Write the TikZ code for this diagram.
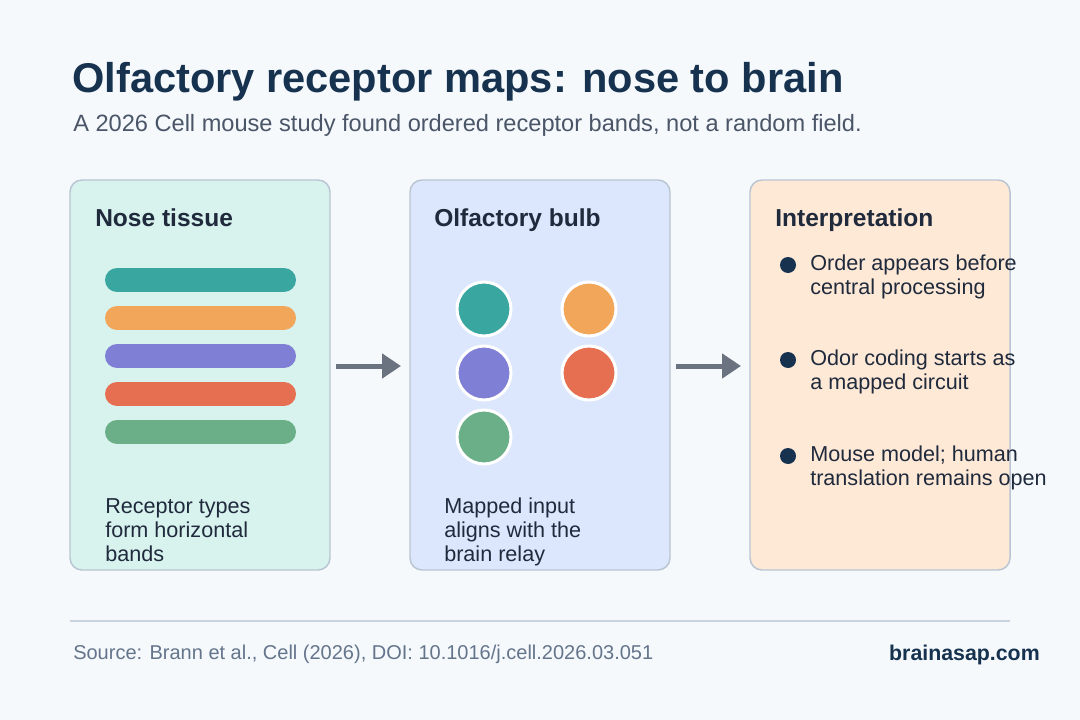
\documentclass[tikz,border=0pt]{standalone}
\usepackage{fontspec}
\setmainfont{Liberation Sans}
\usetikzlibrary{arrows.meta,positioning}
\definecolor{pageBg}{RGB}{245,249,252}
\definecolor{panelLine}{RGB}{185,197,211}
\definecolor{noseFill}{RGB}{216,242,238}
\definecolor{bulbFill}{RGB}{220,231,253}
\definecolor{interpFill}{RGB}{254,232,214}
\definecolor{titleInk}{RGB}{22,50,79}
\definecolor{subInk}{RGB}{74,85,104}
\definecolor{bodyInk}{RGB}{31,42,60}
\definecolor{footInk}{RGB}{100,116,139}
\definecolor{ruleLine}{RGB}{200,212,224}
\definecolor{arrowInk}{RGB}{107,114,128}
\definecolor{bandTeal}{RGB}{58,166,160}
\definecolor{bandOrange}{RGB}{242,166,90}
\definecolor{bandPurple}{RGB}{127,127,213}
\definecolor{bandRed}{RGB}{231,111,81}
\definecolor{bandGreen}{RGB}{106,175,135}
\tikzset{
  panel/.style={draw=panelLine, line width=1.1pt, rounded corners=9pt, minimum width=195pt, minimum height=292.5pt, inner sep=0pt, outer sep=0pt},
  nosepanel/.style={panel, fill=noseFill},
  bulbpanel/.style={panel, fill=bulbFill},
  interppanel/.style={panel, fill=interpFill},
  titletext/.style={anchor=base west, inner sep=0pt, text=titleInk, font=\fontsize{31.2pt}{36pt}\selectfont\bfseries},
  subtext/.style={anchor=base west, inner sep=0pt, text=subInk, font=\fontsize{17.7pt}{20pt}\selectfont},
  headtext/.style={anchor=base west, inner sep=0pt, text=bodyInk, font=\fontsize{18.4pt}{21pt}\selectfont\bfseries},
  bodytext/.style={anchor=base west, inner sep=0pt, align=left, text=bodyInk, font=\fontsize{16.2pt}{18pt}\selectfont},
  foottext/.style={anchor=base west, inner sep=0pt, text=footInk, font=\fontsize{15pt}{18pt}\selectfont},
  brandtext/.style={anchor=base east, inner sep=0pt, text=titleInk, font=\fontsize{16pt}{18pt}\selectfont\bfseries},
  band/.style={line width=18pt, line cap=round},
  dot/.style={circle, draw=white, line width=2.25pt, minimum size=40.5pt, inner sep=0pt},
  bullet/.style={circle, fill=titleInk, minimum size=12pt, inner sep=0pt},
  flow/.style={-{Triangle[length=14.25pt, width=18pt]}, line width=3.75pt, draw=arrowInk}
}

\begin{document}
\begin{tikzpicture}[x=0.75pt, y=-0.75pt]
  \fill[pageBg] (0,0) rectangle (1080,720);
  \useasboundingbox (0,0) rectangle (1080,720);
  \node[titletext] (title) at (72,93) {Olfactory receptor maps: nose to brain};
  \node[subtext] (subtitle) at (73,132) {A 2026 Cell mouse study found ordered receptor bands, not a random field.};
  % three panels
  \node[nosepanel, anchor=north west] (nose) at (70,180) {};
  \node[bulbpanel, right=60pt of nose] (bulb) {};
  \node[interppanel, right=60pt of bulb] (interp) {};
  \node[headtext] (noseHead) at ([shift={(25,47)}]nose.north west) {Nose tissue};
  \node[headtext] (bulbHead) at ([shift={(24,47)}]bulb.north west) {Olfactory bulb};
  \node[headtext] (interpHead) at ([shift={(25,47)}]interp.north west) {Interpretation};
  % receptor bands
  \foreach \c [count=\i] in {bandTeal,bandOrange,bandPurple,bandRed,bandGreen}
    \draw[band, draw=\c] (117,{242+38*\i}) -- (284,{242+38*\i});
  % glomeruli
  \foreach \c/\x/\y in {bandTeal/484/309, bandOrange/589/309, bandPurple/484/373, bandRed/589/373, bandGreen/484/437}
    \node[dot, fill=\c] (glom\x\y) at (\x,\y) {};
  \node[bodytext] (noseNote) at (105,561) {Receptor types\\form horizontal\\bands};
  \node[bodytext] (bulbNote) at (444,561) {Mapped input\\aligns with the\\brain relay};
  % interpretation bullets
  \foreach \y/\txt [count=\i] in {270/{Order appears before\\central processing}, 365/{Odor coding starts as\\a mapped circuit}, 461/{Mouse model; human\\translation remains open}} {
    \node[bullet] (dot\i) at (788,\y-5) {};
    \node[bodytext] (point\i) at (810,\y+24) {\txt};
  }
  \draw[flow] ([shift={(6,-9)}]nose.east) -- ([shift={(-9,-9)}]bulb.west);
  \draw[flow] ([shift={(6,-9)}]bulb.east) -- ([shift={(-9,-9)}]interp.west);
  % footer
  \draw[ruleLine, line width=1.5pt] (70,621) -- (1010,621);
  \node[foottext] (source) at (73,659) {Source: Brann et al., Cell (2026), DOI: 10.1016/j.cell.2026.03.051};
  \node[brandtext] (brand) at (1040,660) {brainasap.com};
\end{tikzpicture}
\end{document}
